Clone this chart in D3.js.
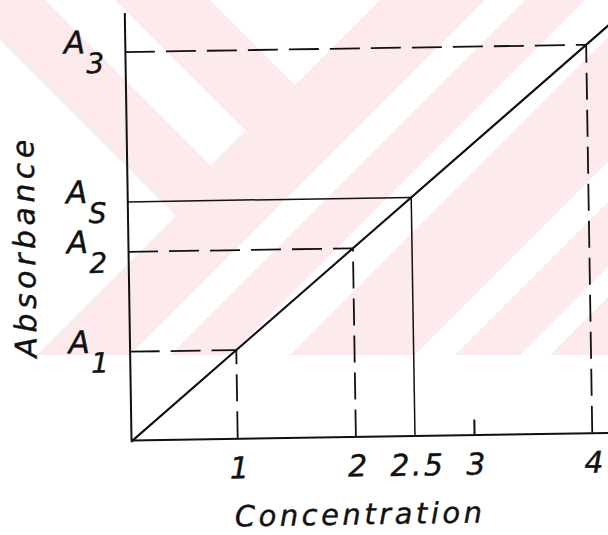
<!DOCTYPE html>
<html>
<head>
<meta charset="utf-8">
<script src="https://cdn.jsdelivr.net/npm/d3@7"></script>
<style>
  html, body { margin: 0; padding: 0; background: #fff; }
  svg { display: block; }
</style>
</head>
<body>
<svg id="chart" width="608" height="535"></svg>
<script>
// Calibration standards: concentration and the absorbance read for each
const concentrations = [1, 2, 2.5, 4];
const absorbances = [0.1, 0.2, 0.25, 0.4];
const absorbanceSubscripts = ["1", "2", "S", "3"];
const guideKinds = ["dashed", "dashed", "solid", "dashed"];

// Axis ticks and titles
const xTickValues = [1, 2, 2.5, 3, 4];
const xTickLabels = ["1", "2", "2.5", "3", "4"];
const xTitle = "Concentration";
const yTitle = "Absorbance";

// Extent of the drawn axes and calibration line (data units)
const xAxisMax = 4.2;
const yAxisMax = 0.4395;
const lineMax = 4.2;
const lineSlope = 0.1;

const svg = d3.select("#chart");
const W = 608, H = 535;

// ---- faint background band pattern ----
const bg = svg.append("g");
bg.append("clipPath").attr("id", "bandClip")
  .append("rect").attr("x", 0).attr("y", 0).attr("width", W).attr("height", 355);
const bands = bg.append("g").attr("clip-path", "url(#bandClip)");
bands.append("rect").attr("x", 0).attr("y", 0).attr("width", W).attr("height", 355).attr("fill", "#fdeaed");
const cut = d3.line();
const whiteShapes = [
  [[0, 40], [176, 216], [0, 392]],
  [[25, -20], [95, -20], [245.5, 130.5], [210.5, 165.5]],
  [[190, -20], [400, -20], [295, 85]]
];
[[485, 525], [585, 645], [770, 810], [875, 905], [985, 1015]].forEach(([u1, u2]) => {
  whiteShapes.push([[u1 + 20, -20], [u2 + 20, -20], [u2 - 400, 400], [u1 - 400, 400]]);
});
bands.selectAll("path.cut").data(whiteShapes).join("path")
  .attr("class", "cut")
  .attr("d", d => cut(d) + "Z")
  .attr("fill", "#fff");

// ---- chart (the sheet sits very slightly turned) ----
const g = svg.append("g").attr("transform", "translate(131,440) rotate(-0.9)");

// zero of both scales lies just outside the axis corner
const x = d3.scaleLinear().domain([0, 4]).range([-11.5, 461.3]);
const y = d3.scaleLinear().domain([0, 0.4]).range([11.6, -388]);
const xStart = x.invert(0);
const yStart = y.invert(0);

const ink = "#111";
const font = "'DejaVu Sans', sans-serif";

// x axis
const xAxisScale = x.copy().domain([xStart, xAxisMax]).range([0, x(xAxisMax)]);
const xAxis = g.append("g")
  .call(d3.axisBottom(xAxisScale).tickValues(xTickValues).tickFormat((d, i) => xTickLabels[i])
    .tickSizeInner(-15).tickSizeOuter(0));
xAxis.select(".domain").attr("stroke", ink).attr("stroke-width", 2);
xAxis.selectAll(".tick line")
  .attr("stroke", ink).attr("stroke-width", 2)
  .attr("y2", d => (d === 3 ? -15 : 0));
xAxis.selectAll(".tick text")
  .attr("x", 2)
  .attr("y", 40).attr("dy", null)
  .attr("font-family", font).attr("font-style", "oblique")
  .attr("font-size", 30).attr("fill", ink)
  .attr("stroke", ink).attr("stroke-width", 0.4)
  .attr("letter-spacing", 2.5);

// y axis
const yAxisScale = y.copy().domain([yStart, yAxisMax]).range([0, y(yAxisMax)]);
const yAxis = g.append("g")
  .call(d3.axisLeft(yAxisScale).tickValues(absorbances).tickSize(0).tickFormat(""));
yAxis.select(".domain").attr("stroke", ink).attr("stroke-width", 2);
yAxis.selectAll(".tick text").remove();
yAxis.selectAll(".tick").each(function (d, i) {
  const t = d3.select(this).append("text")
    .attr("x", -61).attr("y", 0)
    .attr("text-anchor", "start")
    .attr("font-family", font).attr("font-style", "oblique")
    .attr("font-size", 31).attr("fill", ink)
    .attr("stroke", ink).attr("stroke-width", 0.4);
  t.append("tspan").text("A");
  t.append("tspan").attr("dx", 1).attr("dy", 20).attr("font-size", 28).text(absorbanceSubscripts[i]);
});

// guides from each standard to both axes
const pts = concentrations.map((c, i) => ({ c, a: absorbances[i], kind: guideKinds[i] }));
const guides = g.append("g").attr("fill", "none").attr("stroke", ink);
pts.forEach(p => {
  const dashed = p.kind === "dashed";
  guides.append("line")
    .attr("x1", x(xStart)).attr("y1", y(p.a)).attr("x2", x(p.c)).attr("y2", y(p.a))
    .attr("stroke-width", dashed ? 1.8 : 1.5)
    .attr("stroke-dasharray", dashed ? "30,11" : null);
  guides.append("line")
    .attr("x1", x(p.c)).attr("y1", y(yStart)).attr("x2", x(p.c)).attr("y2", y(p.a))
    .attr("stroke-width", dashed ? 1.8 : 1.5)
    .attr("stroke-dasharray", dashed ? "27,10" : null);
});

// calibration line, A = 0.1 * c, from the axis corner upward
g.append("path")
  .datum([xStart, lineMax])
  .attr("d", d3.line().x(c => x(c)).y(c => y(c * lineSlope)))
  .attr("fill", "none").attr("stroke", ink).attr("stroke-width", 2.1);

// titles
g.append("text")
  .attr("x", (x(1) + x(3)) / 2 + 3).attr("y", 88)
  .attr("text-anchor", "middle")
  .attr("font-family", font).attr("font-style", "oblique")
  .attr("font-size", 29).attr("letter-spacing", 3.5).attr("fill", ink)
  .attr("stroke", ink).attr("stroke-width", 0.4)
  .text(xTitle);

g.append("text")
  .attr("transform", `translate(-93,${y(0.2) - 7}) rotate(-90)`)
  .attr("text-anchor", "middle")
  .attr("font-family", font).attr("font-style", "oblique")
  .attr("font-size", 30).attr("letter-spacing", 4.5).attr("fill", ink)
  .attr("stroke", ink).attr("stroke-width", 0.4)
  .text(yTitle);
</script>
</body>
</html>
